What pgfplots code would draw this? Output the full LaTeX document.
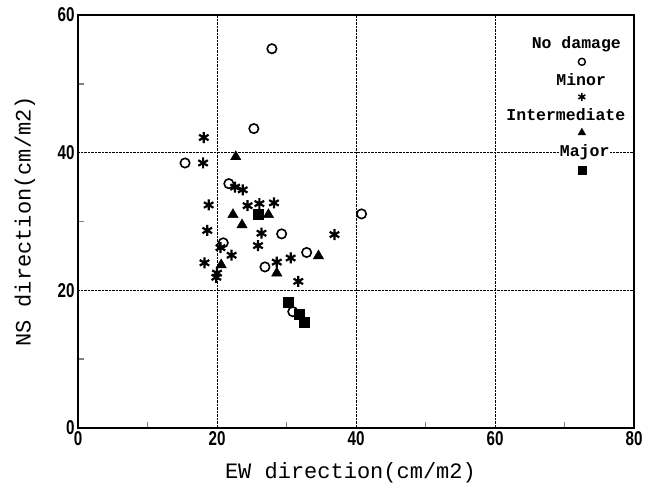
\documentclass[border=0pt]{standalone}
\usepackage{fontspec}
\usepackage{pgfplots}
\pgfplotsset{compat=1.18}
\setmainfont{Liberation Mono}
\newfontfamily\tickfont{Liberation Sans Bold}[FakeStretch=0.76]

\begin{document}
\begin{tikzpicture}
\begin{axis}[
	scale only axis,
	width=556pt,
	height=413pt,
	xmin=0, xmax=80,
	ymin=0, ymax=60,
	xtick={0,20,40,60,80},
	ytick={0,20,40,60},
	minor xtick={10,30,50,70},
	minor ytick={10,30,50},
	tick align=inside,
	tick pos=left,
	major tick length=0pt,
	minor tick length=6pt,
	minor tick style={line width=1.6pt},
	axis line style={line width=1.8pt},
	grid=major,
	major grid style={densely dotted, line width=0.9pt, black},
	/pgf/number format/assume math mode=true,
	ticklabel style={font=\tickfont\fontsize{20}{20}\selectfont},
	xlabel={EW direction(cm/m2)},
	ylabel={NS direction(cm/m2)},
	label style={font=\fontsize{22}{22}\selectfont},
	xlabel style={at={(axis description cs:0.49,0)}, anchor=center, yshift=-45pt},
	ylabel style={at={(axis description cs:0,0.5)}, anchor=center, yshift=53pt},
	clip=false,
]
\coordinate (bl) at (rel axis cs:0,0);
\coordinate (tr) at (rel axis cs:1,1);
% No damage
\addplot[only marks, mark=o, mark size=4.7pt, line width=1.6pt] coordinates {
	(15.4,38.5) (27.9,55.1) (25.3,43.5) (21.7,35.5) (20.9,26.9)
	(29.3,28.2) (26.9,23.4) (32.9,25.5) (40.8,31.1) (30.9,16.9)
};
% Minor
\addplot[only marks, mark=asterisk, mark size=5.5pt, line width=2.2pt] coordinates {
	(18.1,42.2) (18.0,38.5) (22.6,35.0) (23.7,34.6) (18.8,32.4)
	(24.4,32.3) (26.1,32.6) (28.2,32.7) (18.6,28.7) (26.4,28.3)
	(36.9,28.1) (20.5,26.2) (25.9,26.5) (22.1,25.1) (18.2,24.0)
	(28.6,24.1) (30.6,24.7) (20.0,22.5) (19.9,21.9) (31.7,21.3)
};
% Intermediate
\addplot[only marks, mark=triangle*, mark size=6pt, black] coordinates {
	(22.7,39.4) (22.3,31.0) (23.6,29.5) (27.4,31.0) (20.6,23.7)
	(28.6,22.5) (34.6,25.0)
};
% Major
\addplot[only marks, mark=square*, mark size=5pt, black] coordinates {
	(25.9,31.0) (30.2,18.3) (31.8,16.5) (32.6,15.4)
};
% legend
\node[fill=white, inner sep=1pt, font=\bfseries\fontsize{16.5}{16.5}\selectfont] at (axis cs:71.7,55.7) {No damage};
\node[fill=white, inner sep=1pt, font=\bfseries\fontsize{16.5}{16.5}\selectfont] at (axis cs:72.4,50.6) {Minor};
\node[fill=white, inner sep=1pt, font=\bfseries\fontsize{16.5}{16.5}\selectfont] at (axis cs:70.2,45.6) {Intermediate};
\node[fill=white, inner sep=1pt, font=\bfseries\fontsize{16.5}{16.5}\selectfont] at (axis cs:72.9,40.1) {Major};
\addplot[only marks, mark=o, mark size=3.5pt, line width=1.4pt] coordinates {(72.5,53.2)};
\addplot[only marks, mark=asterisk, mark size=4pt, line width=1.6pt] coordinates {(72.5,48.1)};
\addplot[only marks, mark=triangle*, mark size=4.5pt, black] coordinates {(72.5,42.9)};
\addplot[only marks, mark=square*, mark size=4pt, black] coordinates {(72.5,37.5)};
\end{axis}
\pgfresetboundingbox
\path[use as bounding box] ([xshift=-78pt,yshift=-67pt]bl) rectangle ([xshift=11pt,yshift=15pt]tr);
\end{tikzpicture}
\end{document}
